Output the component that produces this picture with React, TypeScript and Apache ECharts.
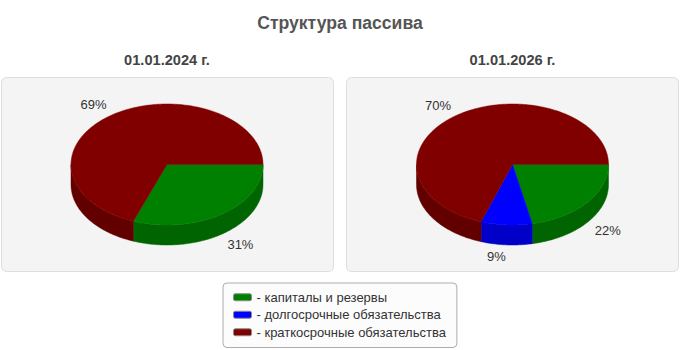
import React, { useEffect, useRef } from "react";
import * as echarts from "echarts";

const CATEGORIES = [
  "капиталы и резервы",
  "долгосрочные обязательства",
  "краткосрочные обязательства",
];
const DATES = ["01.01.2024 г.", "01.01.2026 г."];
const VALUES_2024 = [30.7, 0, 69.3];
const VALUES_2026 = [21.7, 8.6, 69.7];
const PIES = [VALUES_2024, VALUES_2026];
const TITLE = "Структура пассива";

const TOP_COLORS = ["#008000", "#0000ff", "#800000"];
const SIDE_COLORS = ["#006400", "#0000c8", "#620000"];

const PIE_CX = [167, 512.5];
const CY = 164.5;
const RX = 96;
const RY = 60.5;
const DEPTH = 20;
const FONT = "'Liberation Sans', Arial, sans-serif";

function renderItem(params: any, api: any) {
  const pie = api.value(0) as number;
  const v = api.value(1) as number;
  const cat = params.seriesIndex as number;
  const vals = PIES[pie];
  const total = vals.reduce((s, x) => s + x, 0);
  if (!v) return { type: "group", children: [] };
  let before = 0;
  for (let j = 0; j < cat; j++) before += vals[j];
  const t0 = (before / total) * Math.PI * 2;
  const t1 = ((before + v) / total) * Math.PI * 2;
  const cx = PIE_CX[pie];
  const arc = (a: number, b: number, dy: number) => {
    const n = Math.max(2, Math.ceil((b - a) / (Math.PI / 180)));
    const pts: number[][] = [];
    for (let k = 0; k <= n; k++) {
      const t = a + ((b - a) * k) / n;
      pts.push([cx + RX * Math.cos(t), CY + RY * Math.sin(t) + dy]);
    }
    return pts;
  };
  const children: any[] = [];
  const a = Math.max(t0, 0);
  const b = Math.min(t1, Math.PI);
  if (b > a) {
    const top = arc(a, b, 0);
    const bot = arc(a, b, DEPTH).reverse();
    children.push({
      type: "polygon",
      z2: 0,
      shape: { points: top.concat(bot) },
      style: { fill: SIDE_COLORS[cat], stroke: SIDE_COLORS[cat], lineWidth: 0.5 },
    });
  }
  children.push({
    type: "polygon",
    z2: 1,
    shape: { points: [[cx, CY]].concat(arc(t0, t1, 0)) },
    style: { fill: TOP_COLORS[cat], stroke: TOP_COLORS[cat], lineWidth: 0.5 },
  });
  const mid = (t0 + t1) / 2;
  const c = Math.cos(mid);
  const s = Math.sin(mid);
  const lx = cx + (RX + 10) * c;
  const ly = CY + (RY + 12) * s + (s > 0 ? DEPTH : 0);
  children.push({
    type: "text",
    z2: 2,
    x: lx,
    y: ly,
    style: {
      text: Math.round((v / total) * 100) + "%",
      fill: "#333",
      fontSize: 13,
      fontFamily: FONT,
      align: c >= 0 ? "left" : "right",
      verticalAlign: "middle",
    },
  });
  return { type: "group", children };
}

export default function App() {
  const ref = useRef<HTMLDivElement>(null);
  useEffect(() => {
    if (!ref.current) return;
    const chart = echarts.init(ref.current, null, { renderer: "svg" });
    const panelW = 332;
    chart.setOption({
      animation: false,
      backgroundColor: "#ffffff",
      graphic: [
        {
          type: "rect",
          z: 0,
          shape: { x: 1.5, y: 77.5, width: panelW, height: 194, r: 5 },
          style: { fill: "#f4f4f4", stroke: "#dedede", lineWidth: 1 },
        },
        {
          type: "rect",
          z: 0,
          shape: { x: 346.5, y: 77.5, width: panelW, height: 194, r: 5 },
          style: { fill: "#f4f4f4", stroke: "#dedede", lineWidth: 1 },
        },
        {
          type: "text",
          z: 1,
          x: 340,
          y: 23,
          style: {
            text: TITLE,
            fill: "#555",
            fontSize: 17.6,
            fontWeight: "bold",
            fontFamily: FONT,
            align: "center",
            verticalAlign: "middle",
          },
        },
        ...DATES.map((d, i) => ({
          type: "text",
          z: 1,
          x: PIE_CX[i],
          y: 60,
          style: {
            text: d,
            fill: "#444",
            fontSize: 14.6,
            fontWeight: "bold",
            fontFamily: FONT,
            align: "center",
            verticalAlign: "middle",
          },
        })),
      ],
      legend: {
        orient: "vertical",
        left: 223,
        top: 283,
        padding: [7, 11, 8, 10],
        itemWidth: 18,
        itemHeight: 7,
        itemGap: 3,
        icon: "roundRect",
        selectedMode: false,
        data: CATEGORIES,
        formatter: (name: string) => "- " + name,
        itemStyle: { borderColor: "#8a8a8a", borderWidth: 1 },
        textStyle: { fontSize: 13, color: "#333", fontFamily: FONT, lineHeight: 14.5 },
        backgroundColor: "#fcfcfc",
        borderColor: "#acacac",
        borderWidth: 1,
        borderRadius: 4,
      },
      series: CATEGORIES.map((name, i) => ({
        type: "custom",
        name,
        coordinateSystem: "none",
        silent: true,
        itemStyle: { color: TOP_COLORS[i] },
        renderItem,
        data: PIES.map((vals, p) => [p, vals[i]]),
      })),
    });
    return () => chart.dispose();
  }, []);
  return (
    <div
      ref={ref}
      style={{ position: "fixed", left: 0, top: 0, width: 680, height: 350 }}
    />
  );
}
